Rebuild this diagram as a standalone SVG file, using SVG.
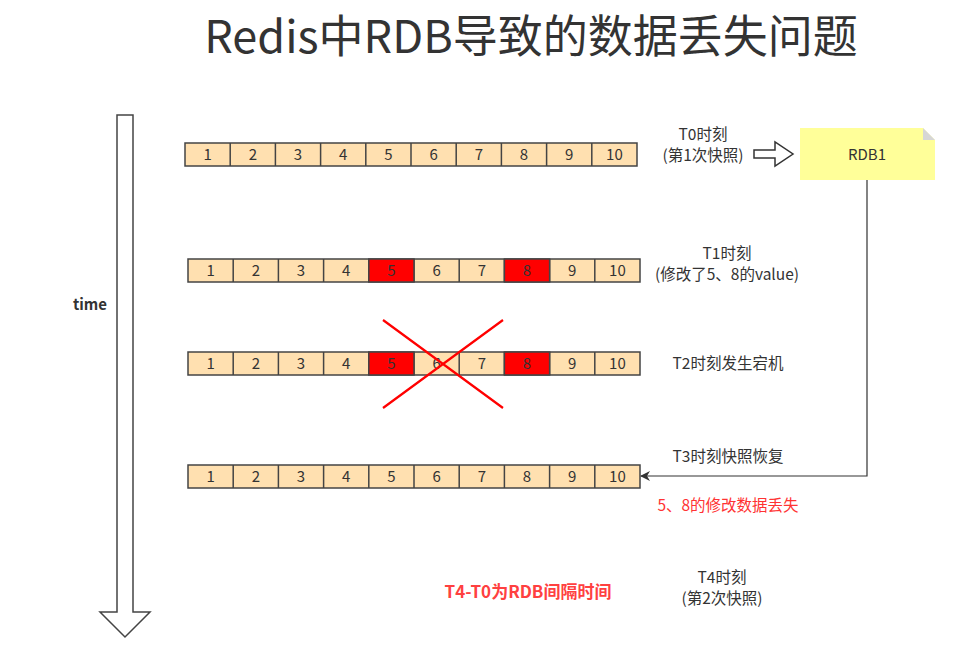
<svg xmlns="http://www.w3.org/2000/svg" width="972" height="663" viewBox="0 0 972 663">
<style>
text{font-family:"Noto Sans CJK SC","Noto Sans",sans-serif;fill:#333}
.c{fill:#ffe0b0;stroke:#444;stroke-width:1.5}
.r{fill:#ff0000;stroke:#444;stroke-width:1.5}
.n{font-size:15px;text-anchor:middle}
.l{font-size:15.5px;text-anchor:middle}
.red{fill:#ff3333}
.edge{fill:none;stroke:#333;stroke-width:1.2}
</style>
<defs>
<marker id="ah" markerWidth="10" markerHeight="10" refX="9" refY="5" orient="auto" markerUnits="userSpaceOnUse">
<path d="M0,0 L10,5 L0,10 L3,5 Z" fill="#333"/>
</marker>
<g id="row">
<rect class="c" x="0" y="0" width="452" height="23"/>
<path d="M45.2,0V23M90.4,0V23M135.6,0V23M180.8,0V23M226,0V23M271.2,0V23M316.4,0V23M361.6,0V23M406.8,0V23" stroke="#444" stroke-width="1.5"/>
</g>
</defs>
<rect width="972" height="663" fill="#fff"/>
<text x="531" y="53" style="font-size:45px;text-anchor:middle">Redis中RDB导致的数据丢失问题</text>

<g id="timeArrow">
<path d="M117,115 H133 V612 H150 L125,637 L100,612 H117 Z" fill="#fff" stroke="#444" stroke-width="1.5"/>
<text x="90" y="310" style="font-size:15px;font-weight:bold;text-anchor:middle">time</text>
</g>

<g id="row1">
<use href="#row" x="185" y="143"/>
<g class="n">
<text x="207.6" y="160">1</text><text x="252.8" y="160">2</text><text x="298" y="160">3</text><text x="343.2" y="160">4</text><text x="388.4" y="160">5</text><text x="433.6" y="160">6</text><text x="478.8" y="160">7</text><text x="524" y="160">8</text><text x="569.2" y="160">9</text><text x="614.4" y="160">10</text>
</g>
</g>

<g id="row2">
<use href="#row" x="188" y="259"/>
<rect class="r" x="368.8" y="259" width="45.2" height="23"/>
<rect class="r" x="504.4" y="259" width="45.2" height="23"/>
<g class="n">
<text x="210.6" y="276">1</text><text x="255.8" y="276">2</text><text x="301" y="276">3</text><text x="346.2" y="276">4</text><text x="391.4" y="276">5</text><text x="436.6" y="276">6</text><text x="481.8" y="276">7</text><text x="527" y="276">8</text><text x="572.2" y="276">9</text><text x="617.4" y="276">10</text>
</g>
</g>

<g id="row3">
<use href="#row" x="188" y="352"/>
<rect class="r" x="368.8" y="352" width="45.2" height="23"/>
<rect class="r" x="504.4" y="352" width="45.2" height="23"/>
<g class="n">
<text x="210.6" y="369">1</text><text x="255.8" y="369">2</text><text x="301" y="369">3</text><text x="346.2" y="369">4</text><text x="391.4" y="369">5</text><text x="436.6" y="369">6</text><text x="481.8" y="369">7</text><text x="527" y="369">8</text><text x="572.2" y="369">9</text><text x="617.4" y="369">10</text>
</g>
</g>

<g id="cross">
<path d="M383,320 L503,408 M503,320 L383,408" stroke="#ff0000" stroke-width="2.2"/>
</g>

<g id="row4">
<use href="#row" x="188" y="465"/>
<g class="n">
<text x="210.6" y="482">1</text><text x="255.8" y="482">2</text><text x="301" y="482">3</text><text x="346.2" y="482">4</text><text x="391.4" y="482">5</text><text x="436.6" y="482">6</text><text x="481.8" y="482">7</text><text x="527" y="482">8</text><text x="572.2" y="482">9</text><text x="617.4" y="482">10</text>
</g>
</g>

<g id="rdb1">
<path d="M800,128 H923 L935,140 V180 H800 Z" fill="#ffff99"/>
<path d="M923,128 L935,140 H923 Z" fill="#d6d6d6"/>
<text x="867" y="160" style="font-size:15px;text-anchor:middle">RDB1</text>
</g>

<g id="labels">
<text class="l" x="703" y="140">T0时刻</text>
<text class="l" x="703" y="161">(第1次快照)</text>
<text class="l" x="727" y="259">T1时刻</text>
<text class="l" x="727" y="280">(修改了5、8的value)</text>
<text class="l" x="728" y="369">T2时刻发生宕机</text>
<text class="l" x="728" y="462">T3时刻快照恢复</text>
<text class="l red" x="728" y="511">5、8的修改数据丢失</text>
<text style="font-size:17px;text-anchor:middle;font-weight:bold;fill:#ff4040" x="528" y="598">T4-T0为RDB间隔时间</text>
<text class="l" x="722" y="583">T4时刻</text>
<text class="l" x="722" y="604">(第2次快照)</text>
</g>

<g id="connectors">
<path d="M754,150 H775 V142 L793,154 L775,166 V158 H754 Z" fill="#fff" stroke="#333" stroke-width="1.5"/>
<path class="edge" d="M867,180 V476 H641" marker-end="url(#ah)"/>
</g>
</svg>
